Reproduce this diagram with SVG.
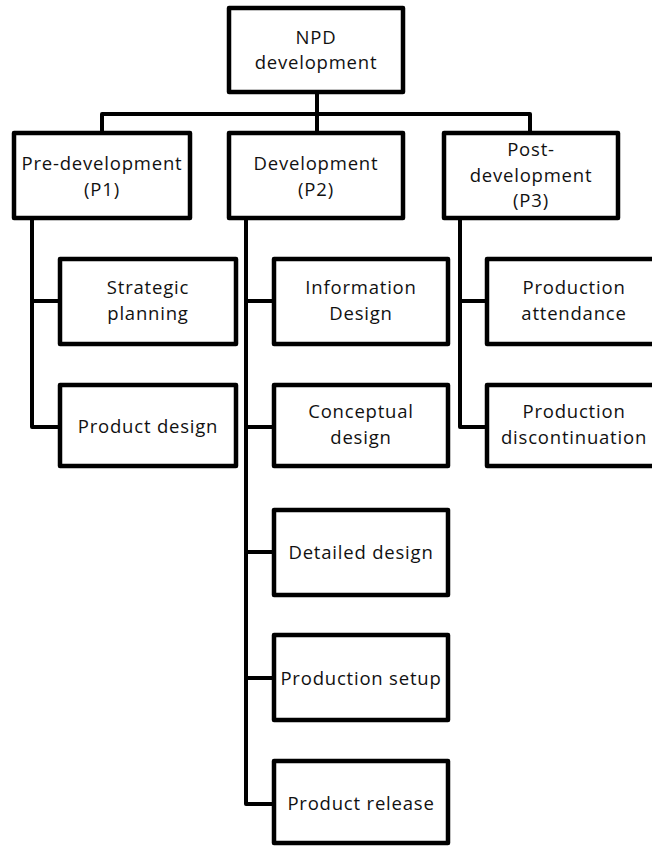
<svg xmlns="http://www.w3.org/2000/svg" width="652" height="846" viewBox="0 0 652 846">
<style>
.box{fill:#fff;stroke:#000;stroke-width:4.5;stroke-linejoin:round}
.con{fill:none;stroke:#000;stroke-width:4;stroke-linejoin:round}
text{font-family:"Open Sans","DejaVu Sans",sans-serif;font-size:18.5px;letter-spacing:0.8px;fill:#111;text-anchor:middle}
</style>
<rect width="652" height="846" fill="#fff"/>
<g id="connectors">
<path class="con" d="M317,92 V114 M102,133 V114 H530 V133 M317,114 V133"/>
<path class="con" d="M32,218 V427 H60 M32,301 H60"/>
<path class="con" d="M246,218 V804 H274 M246,301 H274 M246,427 H274 M246,552 H274 M246,678 H274"/>
<path class="con" d="M460,218 V427 H487 M460,301 H487"/>
</g>
<g id="npd"><rect class="box" x="229" y="8" width="174" height="84"/><text x="316" y="43.5">NPD</text><text x="316" y="69">development</text></g>
<g id="p1"><rect class="box" x="14" y="133" width="176" height="85"/><text x="102" y="170">Pre-development</text><text x="102" y="195.5">(P1)</text></g>
<g id="p2"><rect class="box" x="229" y="133" width="174" height="85"/><text x="316" y="170">Development</text><text x="316" y="195.5">(P2)</text></g>
<g id="p3"><rect class="box" x="444" y="133" width="174" height="85"/><text x="531" y="156">Post-</text><text x="531" y="181.5">development</text><text x="531" y="207">(P3)</text></g>
<g id="strategic"><rect class="box" x="60" y="259" width="176" height="85"/><text x="148" y="294">Strategic</text><text x="148" y="319.5">planning</text></g>
<g id="product-design"><rect class="box" x="60" y="385" width="176" height="81"/><text x="148" y="433">Product design</text></g>
<g id="information"><rect class="box" x="274" y="259" width="174" height="85"/><text x="361" y="294">Information</text><text x="361" y="319.5">Design</text></g>
<g id="conceptual"><rect class="box" x="274" y="385" width="174" height="81"/><text x="361" y="418">Conceptual</text><text x="361" y="443.5">design</text></g>
<g id="detailed"><rect class="box" x="274" y="510" width="174" height="85"/><text x="361" y="559">Detailed design</text></g>
<g id="setup"><rect class="box" x="274" y="635" width="174" height="85"/><text x="361" y="685">Production setup</text></g>
<g id="release"><rect class="box" x="274" y="761" width="174" height="82"/><text x="361" y="810">Product release</text></g>
<g id="attendance"><rect class="box" x="487" y="259" width="175" height="85"/><text x="574" y="294">Production</text><text x="574" y="319.5">attendance</text></g>
<g id="discontinuation"><rect class="box" x="487" y="385" width="175" height="81"/><text x="574" y="418">Production</text><text x="574" y="443.5">discontinuation</text></g>
</svg>
